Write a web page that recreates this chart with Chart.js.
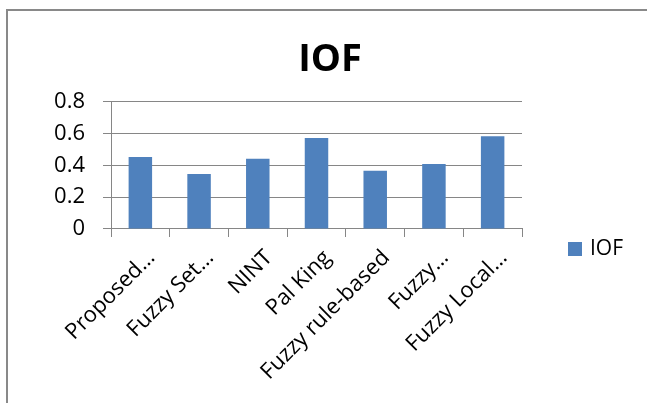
<!DOCTYPE html>
<html>
<head>
<meta charset="utf-8">
<script src="https://cdn.jsdelivr.net/npm/chart.js@4"></script>
<style>
  body { margin: 0; background: #fff; }
  canvas { display: block; }
</style>
</head>
<body>
<canvas id="grafikas" width="647" height="403"></canvas>
<script>
var categories = ["Proposed…", "Fuzzy Set…", "NINT", "Pal King", "Fuzzy rule-based", "Fuzzy…", "Fuzzy Local…"];
var iofValues = [0.452, 0.345, 0.441, 0.571, 0.365, 0.408, 0.582];
var yTickLabels = ["0", "0.2", "0.4", "0.6", "0.8"];

var gridGray = '#868686';
var fontFamily = '"Open Sans", "DejaVu Sans", sans-serif';

// ramka aplink diagrama
var framePlugin = {
    id: 'frame',
    beforeDraw: function(chart) {
        var ctx = chart.ctx;
        ctx.save();
        ctx.strokeStyle = '#898989';
        ctx.lineWidth = 2;
        ctx.strokeRect(7, 10, 700, 500);
        ctx.restore();
    }
};

// tuscia vieta desineje legendai (pavadinimas lieka per visa ploti)
var rightSpace = {
    id: 'rightSpace',
    beforeInit: function(chart) {
        Chart.layouts.addBox(chart, {
            position: 'right',
            fullSize: false,
            weight: 0,
            options: { stackWeight: 1 },
            isHorizontal: function() { return false; },
            update: function(maxWidth, maxHeight) {
                this.width = 125;
                this.height = maxHeight;
            },
            draw: function() {}
        });
    }
};

// legenda desineje, zemiau grafiko apacios
var sideLegend = {
    id: 'sideLegend',
    afterDraw: function(chart) {
        var ctx = chart.ctx;
        var ds = chart.data.datasets[0];
        var x = chart.chartArea.right + 46;
        var y = chart.chartArea.bottom + 20;
        ctx.save();
        ctx.fillStyle = ds.backgroundColor;
        ctx.fillRect(x, y - 7, 14, 14);
        ctx.fillStyle = '#000';
        ctx.font = '21px ' + fontFamily;
        ctx.textBaseline = 'middle';
        ctx.textAlign = 'left';
        ctx.fillText(ds.label, x + 22, y);
        ctx.restore();
    }
};

var ctx = document.getElementById('grafikas').getContext('2d');
var iofChart = new Chart(ctx, {
    type: 'bar',
    data: {
        labels: categories,
        datasets: [
            {
                label: 'IOF',
                data: iofValues,
                backgroundColor: '#4f81bd',
                borderWidth: 0,
                barPercentage: 0.4,
                categoryPercentage: 1.0
            }
        ]
    },
    options: {
        responsive: false,
        animation: false,
        layout: {
            padding: { left: 13, right: 0, top: 0, bottom: 0 }
        },
        plugins: {
            legend: { display: false },
            tooltip: { enabled: false },
            title: {
                display: true,
                text: 'IOF',
                color: '#000',
                font: { family: fontFamily, size: 38, weight: 'bold', lineHeight: 1.2 },
                padding: { top: 37, bottom: 19 }
            }
        },
        scales: {
            x: {
                grid: {
                    display: true,
                    drawOnChartArea: false,
                    drawTicks: true,
                    tickLength: 8,
                    color: gridGray
                },
                border: { display: true, color: gridGray },
                ticks: {
                    color: '#000',
                    autoSkip: false,
                    maxRotation: 45,
                    minRotation: 45,
                    padding: 8,
                    labelOffset: 11,
                    font: { family: fontFamily, size: 22 }
                },
                afterFit: function(scale) {
                    scale.height = 174;
                }
            },
            y: {
                min: 0,
                max: 0.8,
                grid: {
                    color: gridGray,
                    tickLength: 8
                },
                border: { display: true, color: gridGray },
                ticks: {
                    stepSize: 0.2,
                    color: '#000',
                    padding: 18,
                    font: { family: fontFamily, size: 22 },
                    callback: function(value, index) {
                        return yTickLabels[index];
                    }
                },
                afterFit: function(scale) {
                    scale.width = 98;
                }
            }
        }
    },
    plugins: [framePlugin, rightSpace, sideLegend]
});
</script>
</body>
</html>
